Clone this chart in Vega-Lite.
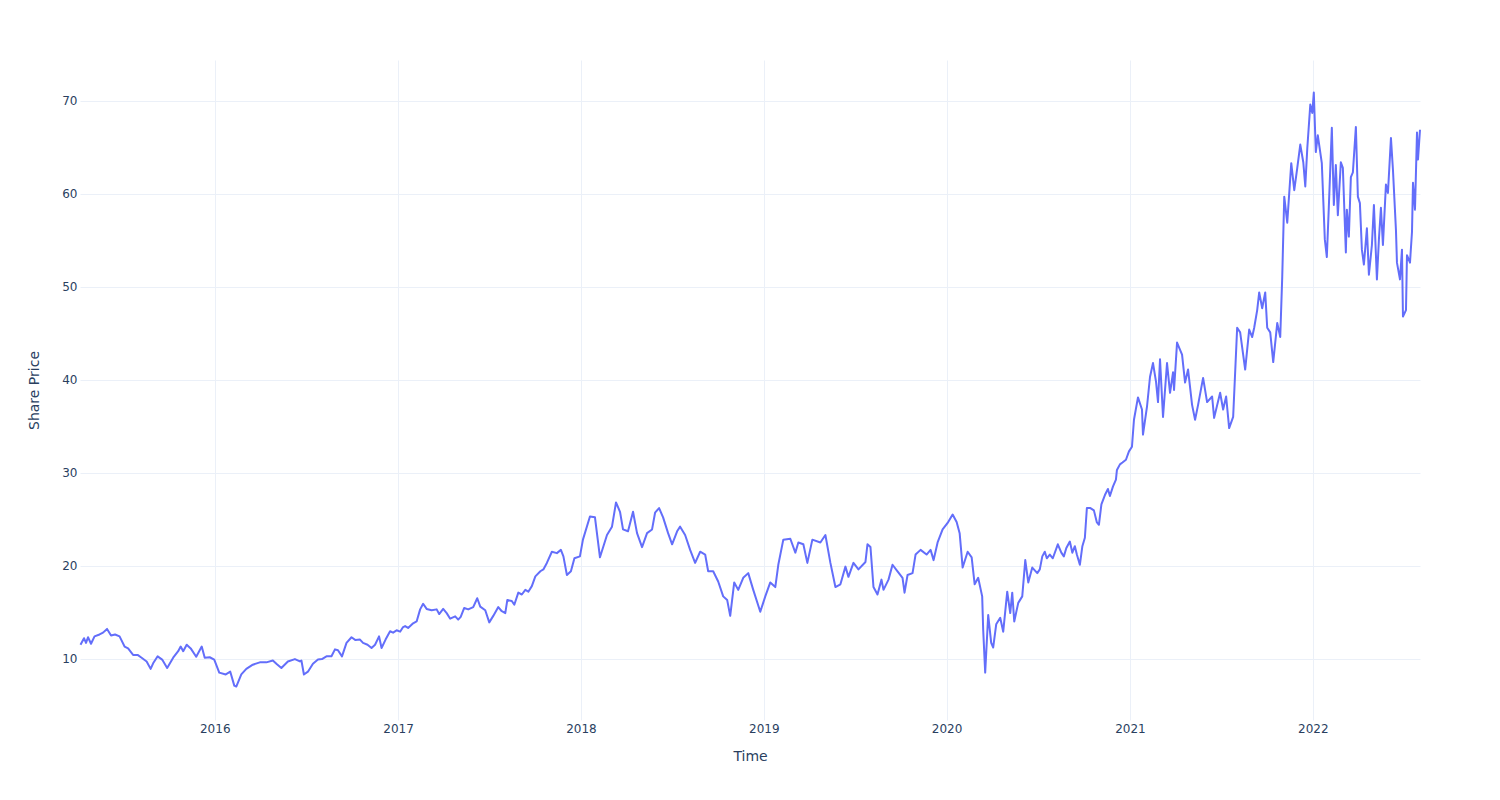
{
  "$schema": "https://vega.github.io/schema/vega-lite/v6.json",
  "width": 1340,
  "height": 660,
  "autosize": {"type": "none"},
  "padding": {"left": 80, "top": 60, "right": 80, "bottom": 80},
  "background": "white",
  "config": {
    "view": {"stroke": null},
    "font": "DejaVu Sans"
  },
  "data": {
    "values": [
      {"date": "2015-04-08", "price": 11.5},
      {"date": "2015-04-15", "price": 12.2},
      {"date": "2015-04-19", "price": 11.7},
      {"date": "2015-04-23", "price": 12.3},
      {"date": "2015-04-29", "price": 11.6},
      {"date": "2015-05-06", "price": 12.4},
      {"date": "2015-05-16", "price": 12.6},
      {"date": "2015-05-23", "price": 12.8},
      {"date": "2015-05-31", "price": 13.2},
      {"date": "2015-06-08", "price": 12.5},
      {"date": "2015-06-16", "price": 12.6},
      {"date": "2015-06-25", "price": 12.4},
      {"date": "2015-07-05", "price": 11.3},
      {"date": "2015-07-12", "price": 11.1},
      {"date": "2015-07-22", "price": 10.4},
      {"date": "2015-07-31", "price": 10.4},
      {"date": "2015-08-08", "price": 10.1},
      {"date": "2015-08-18", "price": 9.7},
      {"date": "2015-08-26", "price": 8.9},
      {"date": "2015-08-31", "price": 9.5},
      {"date": "2015-09-09", "price": 10.25},
      {"date": "2015-09-18", "price": 9.9},
      {"date": "2015-09-28", "price": 9.0},
      {"date": "2015-10-10", "price": 10.1},
      {"date": "2015-10-20", "price": 10.8},
      {"date": "2015-10-25", "price": 11.3},
      {"date": "2015-10-30", "price": 10.8},
      {"date": "2015-11-06", "price": 11.5},
      {"date": "2015-11-14", "price": 11.1},
      {"date": "2015-11-25", "price": 10.2},
      {"date": "2015-12-06", "price": 11.3},
      {"date": "2015-12-12", "price": 10.1},
      {"date": "2015-12-22", "price": 10.15},
      {"date": "2015-12-31", "price": 9.9},
      {"date": "2016-01-10", "price": 8.5},
      {"date": "2016-01-23", "price": 8.3},
      {"date": "2016-02-01", "price": 8.6},
      {"date": "2016-02-09", "price": 7.1},
      {"date": "2016-02-13", "price": 7.0},
      {"date": "2016-02-23", "price": 8.3},
      {"date": "2016-03-04", "price": 8.9},
      {"date": "2016-03-17", "price": 9.35},
      {"date": "2016-03-31", "price": 9.6},
      {"date": "2016-04-13", "price": 9.6},
      {"date": "2016-04-26", "price": 9.8},
      {"date": "2016-05-03", "price": 9.45},
      {"date": "2016-05-13", "price": 9.0},
      {"date": "2016-05-26", "price": 9.7},
      {"date": "2016-06-09", "price": 9.95},
      {"date": "2016-06-19", "price": 9.7},
      {"date": "2016-06-22", "price": 9.8},
      {"date": "2016-06-27", "price": 8.3},
      {"date": "2016-07-05", "price": 8.6},
      {"date": "2016-07-15", "price": 9.45},
      {"date": "2016-07-25", "price": 9.9},
      {"date": "2016-08-02", "price": 9.95},
      {"date": "2016-08-11", "price": 10.25},
      {"date": "2016-08-21", "price": 10.25},
      {"date": "2016-08-28", "price": 11.0},
      {"date": "2016-09-03", "price": 10.9},
      {"date": "2016-09-11", "price": 10.25},
      {"date": "2016-09-20", "price": 11.7},
      {"date": "2016-09-30", "price": 12.3},
      {"date": "2016-10-08", "price": 12.0},
      {"date": "2016-10-17", "price": 12.05},
      {"date": "2016-10-23", "price": 11.7},
      {"date": "2016-11-01", "price": 11.5},
      {"date": "2016-11-09", "price": 11.15},
      {"date": "2016-11-16", "price": 11.5},
      {"date": "2016-11-24", "price": 12.4},
      {"date": "2016-11-29", "price": 11.15},
      {"date": "2016-12-07", "price": 12.05},
      {"date": "2016-12-16", "price": 12.95},
      {"date": "2016-12-22", "price": 12.8},
      {"date": "2016-12-29", "price": 13.05},
      {"date": "2017-01-05", "price": 12.9},
      {"date": "2017-01-11", "price": 13.4},
      {"date": "2017-01-15", "price": 13.5},
      {"date": "2017-01-21", "price": 13.3},
      {"date": "2017-01-31", "price": 13.8},
      {"date": "2017-02-07", "price": 14.0},
      {"date": "2017-02-14", "price": 15.3},
      {"date": "2017-02-20", "price": 15.9},
      {"date": "2017-02-27", "price": 15.35},
      {"date": "2017-03-09", "price": 15.2},
      {"date": "2017-03-19", "price": 15.3},
      {"date": "2017-03-24", "price": 14.8},
      {"date": "2017-04-01", "price": 15.35},
      {"date": "2017-04-08", "price": 14.9},
      {"date": "2017-04-15", "price": 14.3},
      {"date": "2017-04-25", "price": 14.55},
      {"date": "2017-05-01", "price": 14.2},
      {"date": "2017-05-06", "price": 14.5},
      {"date": "2017-05-13", "price": 15.45},
      {"date": "2017-05-21", "price": 15.3},
      {"date": "2017-05-31", "price": 15.55},
      {"date": "2017-06-08", "price": 16.5},
      {"date": "2017-06-14", "price": 15.6},
      {"date": "2017-06-24", "price": 15.2},
      {"date": "2017-07-02", "price": 13.9},
      {"date": "2017-07-10", "price": 14.6},
      {"date": "2017-07-20", "price": 15.55},
      {"date": "2017-07-27", "price": 15.1},
      {"date": "2017-08-03", "price": 14.9},
      {"date": "2017-08-07", "price": 16.3},
      {"date": "2017-08-16", "price": 16.2},
      {"date": "2017-08-21", "price": 15.8},
      {"date": "2017-08-29", "price": 17.1},
      {"date": "2017-09-05", "price": 16.9},
      {"date": "2017-09-12", "price": 17.4},
      {"date": "2017-09-18", "price": 17.2},
      {"date": "2017-09-25", "price": 17.8},
      {"date": "2017-10-02", "price": 18.85},
      {"date": "2017-10-12", "price": 19.4},
      {"date": "2017-10-18", "price": 19.6},
      {"date": "2017-10-25", "price": 20.3},
      {"date": "2017-11-04", "price": 21.5},
      {"date": "2017-11-14", "price": 21.35},
      {"date": "2017-11-22", "price": 21.7},
      {"date": "2017-11-27", "price": 21.0},
      {"date": "2017-12-04", "price": 19.0},
      {"date": "2017-12-12", "price": 19.4},
      {"date": "2017-12-19", "price": 20.8},
      {"date": "2017-12-30", "price": 21.0},
      {"date": "2018-01-05", "price": 22.8},
      {"date": "2018-01-19", "price": 25.3},
      {"date": "2018-01-29", "price": 25.2},
      {"date": "2018-02-08", "price": 20.9},
      {"date": "2018-02-22", "price": 23.3},
      {"date": "2018-03-04", "price": 24.2},
      {"date": "2018-03-12", "price": 26.8},
      {"date": "2018-03-20", "price": 25.8},
      {"date": "2018-03-26", "price": 23.9},
      {"date": "2018-04-05", "price": 23.7},
      {"date": "2018-04-15", "price": 25.8},
      {"date": "2018-04-23", "price": 23.5},
      {"date": "2018-05-03", "price": 22.0},
      {"date": "2018-05-13", "price": 23.5},
      {"date": "2018-05-23", "price": 23.9},
      {"date": "2018-05-29", "price": 25.7},
      {"date": "2018-06-06", "price": 26.2},
      {"date": "2018-06-14", "price": 25.2},
      {"date": "2018-06-24", "price": 23.5},
      {"date": "2018-07-02", "price": 22.3},
      {"date": "2018-07-12", "price": 23.7},
      {"date": "2018-07-18", "price": 24.2},
      {"date": "2018-07-28", "price": 23.3},
      {"date": "2018-08-07", "price": 21.7},
      {"date": "2018-08-17", "price": 20.3},
      {"date": "2018-08-27", "price": 21.5},
      {"date": "2018-09-06", "price": 21.2},
      {"date": "2018-09-12", "price": 19.4},
      {"date": "2018-09-22", "price": 19.4},
      {"date": "2018-10-02", "price": 18.3},
      {"date": "2018-10-12", "price": 16.7},
      {"date": "2018-10-20", "price": 16.3},
      {"date": "2018-10-26", "price": 14.6},
      {"date": "2018-11-03", "price": 18.2},
      {"date": "2018-11-11", "price": 17.4},
      {"date": "2018-11-21", "price": 18.7},
      {"date": "2018-12-01", "price": 19.2},
      {"date": "2018-12-11", "price": 17.4},
      {"date": "2018-12-25", "price": 15.05},
      {"date": "2019-01-04", "price": 16.7},
      {"date": "2019-01-14", "price": 18.2},
      {"date": "2019-01-24", "price": 17.7},
      {"date": "2019-01-30", "price": 20.1},
      {"date": "2019-02-09", "price": 22.8},
      {"date": "2019-02-23", "price": 22.9},
      {"date": "2019-03-05", "price": 21.4},
      {"date": "2019-03-11", "price": 22.5},
      {"date": "2019-03-21", "price": 22.3},
      {"date": "2019-03-29", "price": 20.3},
      {"date": "2019-04-08", "price": 22.8},
      {"date": "2019-04-24", "price": 22.5},
      {"date": "2019-05-04", "price": 23.3},
      {"date": "2019-05-14", "price": 20.3},
      {"date": "2019-05-24", "price": 17.7},
      {"date": "2019-06-03", "price": 18.0},
      {"date": "2019-06-13", "price": 19.9},
      {"date": "2019-06-19", "price": 18.8},
      {"date": "2019-06-29", "price": 20.3},
      {"date": "2019-07-09", "price": 19.6},
      {"date": "2019-07-23", "price": 20.4},
      {"date": "2019-07-27", "price": 22.3},
      {"date": "2019-08-02", "price": 22.0},
      {"date": "2019-08-08", "price": 17.7},
      {"date": "2019-08-16", "price": 16.9},
      {"date": "2019-08-24", "price": 18.5},
      {"date": "2019-08-28", "price": 17.4},
      {"date": "2019-09-07", "price": 18.5},
      {"date": "2019-09-15", "price": 20.1},
      {"date": "2019-09-25", "price": 19.4},
      {"date": "2019-10-05", "price": 18.7},
      {"date": "2019-10-09", "price": 17.1},
      {"date": "2019-10-15", "price": 19.0},
      {"date": "2019-10-25", "price": 19.2},
      {"date": "2019-10-31", "price": 21.2},
      {"date": "2019-11-10", "price": 21.7},
      {"date": "2019-11-22", "price": 21.2},
      {"date": "2019-11-30", "price": 21.7},
      {"date": "2019-12-06", "price": 20.6},
      {"date": "2019-12-14", "price": 22.5},
      {"date": "2019-12-24", "price": 23.9},
      {"date": "2020-01-03", "price": 24.6},
      {"date": "2020-01-13", "price": 25.5},
      {"date": "2020-01-21", "price": 24.7},
      {"date": "2020-01-27", "price": 23.5},
      {"date": "2020-02-02", "price": 19.8},
      {"date": "2020-02-12", "price": 21.5},
      {"date": "2020-02-20", "price": 20.9},
      {"date": "2020-02-26", "price": 18.0},
      {"date": "2020-03-04", "price": 18.7},
      {"date": "2020-03-12", "price": 16.7},
      {"date": "2020-03-14", "price": 13.1},
      {"date": "2020-03-18", "price": 8.5},
      {"date": "2020-03-24", "price": 14.7},
      {"date": "2020-03-30", "price": 11.7},
      {"date": "2020-04-03", "price": 11.2},
      {"date": "2020-04-09", "price": 13.7},
      {"date": "2020-04-17", "price": 14.4},
      {"date": "2020-04-23", "price": 12.9},
      {"date": "2020-05-01", "price": 17.2},
      {"date": "2020-05-07", "price": 14.9},
      {"date": "2020-05-11", "price": 17.1},
      {"date": "2020-05-15", "price": 14.0},
      {"date": "2020-05-23", "price": 16.0},
      {"date": "2020-05-31", "price": 16.7},
      {"date": "2020-06-06", "price": 20.6},
      {"date": "2020-06-12", "price": 18.2},
      {"date": "2020-06-20", "price": 19.8},
      {"date": "2020-06-30", "price": 19.2},
      {"date": "2020-07-05", "price": 19.6},
      {"date": "2020-07-10", "price": 21.0},
      {"date": "2020-07-15", "price": 21.5},
      {"date": "2020-07-19", "price": 20.8},
      {"date": "2020-07-25", "price": 21.2},
      {"date": "2020-07-31", "price": 20.8},
      {"date": "2020-08-10", "price": 22.3},
      {"date": "2020-08-17", "price": 21.4},
      {"date": "2020-08-22", "price": 21.0},
      {"date": "2020-08-27", "price": 21.9},
      {"date": "2020-09-03", "price": 22.6},
      {"date": "2020-09-08", "price": 21.4},
      {"date": "2020-09-13", "price": 22.1},
      {"date": "2020-09-17", "price": 21.2},
      {"date": "2020-09-23", "price": 20.1},
      {"date": "2020-09-28", "price": 22.1},
      {"date": "2020-10-03", "price": 23.0},
      {"date": "2020-10-07", "price": 26.2},
      {"date": "2020-10-14", "price": 26.2},
      {"date": "2020-10-21", "price": 25.95},
      {"date": "2020-10-27", "price": 24.65},
      {"date": "2020-10-31", "price": 24.4},
      {"date": "2020-11-05", "price": 26.6},
      {"date": "2020-11-12", "price": 27.6},
      {"date": "2020-11-18", "price": 28.25},
      {"date": "2020-11-22", "price": 27.5},
      {"date": "2020-11-28", "price": 28.5},
      {"date": "2020-12-04", "price": 29.25},
      {"date": "2020-12-06", "price": 30.3},
      {"date": "2020-12-12", "price": 30.9},
      {"date": "2020-12-17", "price": 31.1},
      {"date": "2020-12-24", "price": 31.4},
      {"date": "2020-12-30", "price": 32.3},
      {"date": "2021-01-05", "price": 32.8},
      {"date": "2021-01-09", "price": 35.7},
      {"date": "2021-01-17", "price": 38.1},
      {"date": "2021-01-25", "price": 36.8},
      {"date": "2021-01-27", "price": 34.1},
      {"date": "2021-02-04", "price": 37.1},
      {"date": "2021-02-10", "price": 40.3},
      {"date": "2021-02-16", "price": 41.8},
      {"date": "2021-02-22", "price": 39.8},
      {"date": "2021-02-26", "price": 37.6},
      {"date": "2021-03-02", "price": 42.2},
      {"date": "2021-03-08", "price": 36.0},
      {"date": "2021-03-16", "price": 41.8},
      {"date": "2021-03-22", "price": 38.6},
      {"date": "2021-03-28", "price": 40.8},
      {"date": "2021-03-30", "price": 38.9},
      {"date": "2021-04-05", "price": 44.0},
      {"date": "2021-04-15", "price": 42.7},
      {"date": "2021-04-21", "price": 39.7},
      {"date": "2021-04-27", "price": 41.1},
      {"date": "2021-05-05", "price": 37.3},
      {"date": "2021-05-11", "price": 35.7},
      {"date": "2021-05-17", "price": 37.3},
      {"date": "2021-05-27", "price": 40.2},
      {"date": "2021-06-04", "price": 37.6},
      {"date": "2021-06-14", "price": 38.2},
      {"date": "2021-06-18", "price": 35.9},
      {"date": "2021-06-30", "price": 38.6},
      {"date": "2021-07-06", "price": 36.8},
      {"date": "2021-07-12", "price": 38.2},
      {"date": "2021-07-18", "price": 34.8},
      {"date": "2021-07-26", "price": 36.0},
      {"date": "2021-08-03", "price": 45.6},
      {"date": "2021-08-09", "price": 45.1},
      {"date": "2021-08-19", "price": 41.1},
      {"date": "2021-08-27", "price": 45.4},
      {"date": "2021-09-02", "price": 44.6},
      {"date": "2021-09-06", "price": 45.6},
      {"date": "2021-09-12", "price": 47.5},
      {"date": "2021-09-16", "price": 49.4},
      {"date": "2021-09-22", "price": 47.7},
      {"date": "2021-09-28", "price": 49.4},
      {"date": "2021-10-02", "price": 45.6},
      {"date": "2021-10-08", "price": 45.1},
      {"date": "2021-10-14", "price": 41.9},
      {"date": "2021-10-22", "price": 46.1},
      {"date": "2021-10-28", "price": 44.6},
      {"date": "2021-11-01", "price": 51.1},
      {"date": "2021-11-05", "price": 59.7},
      {"date": "2021-11-11", "price": 56.9},
      {"date": "2021-11-19", "price": 63.3},
      {"date": "2021-11-25", "price": 60.4},
      {"date": "2021-12-01", "price": 62.8},
      {"date": "2021-12-07", "price": 65.3},
      {"date": "2021-12-13", "price": 63.4},
      {"date": "2021-12-17", "price": 60.8},
      {"date": "2021-12-21", "price": 64.9},
      {"date": "2021-12-27", "price": 69.6},
      {"date": "2021-12-31", "price": 68.7},
      {"date": "2022-01-03", "price": 70.9},
      {"date": "2022-01-07", "price": 64.5},
      {"date": "2022-01-11", "price": 66.3},
      {"date": "2022-01-19", "price": 63.3},
      {"date": "2022-01-25", "price": 55.1},
      {"date": "2022-01-29", "price": 53.2},
      {"date": "2022-02-02", "price": 58.6},
      {"date": "2022-02-08", "price": 67.1},
      {"date": "2022-02-12", "price": 58.8},
      {"date": "2022-02-16", "price": 63.1},
      {"date": "2022-02-20", "price": 57.7},
      {"date": "2022-02-26", "price": 63.4},
      {"date": "2022-03-02", "price": 62.8},
      {"date": "2022-03-08", "price": 53.7},
      {"date": "2022-03-10", "price": 58.3},
      {"date": "2022-03-14", "price": 55.4},
      {"date": "2022-03-18", "price": 61.8},
      {"date": "2022-03-22", "price": 62.3},
      {"date": "2022-03-28", "price": 67.2},
      {"date": "2022-04-01", "price": 59.7},
      {"date": "2022-04-05", "price": 59.0},
      {"date": "2022-04-09", "price": 54.0},
      {"date": "2022-04-13", "price": 52.4},
      {"date": "2022-04-19", "price": 56.3},
      {"date": "2022-04-23", "price": 51.3},
      {"date": "2022-04-29", "price": 54.5},
      {"date": "2022-05-03", "price": 58.8},
      {"date": "2022-05-09", "price": 50.8},
      {"date": "2022-05-13", "price": 55.1},
      {"date": "2022-05-17", "price": 58.5},
      {"date": "2022-05-21", "price": 54.5},
      {"date": "2022-05-27", "price": 61.0},
      {"date": "2022-05-31", "price": 60.1},
      {"date": "2022-06-06", "price": 66.0},
      {"date": "2022-06-10", "price": 62.6},
      {"date": "2022-06-16", "price": 56.1},
      {"date": "2022-06-18", "price": 52.6},
      {"date": "2022-06-24", "price": 50.8},
      {"date": "2022-06-28", "price": 54.0},
      {"date": "2022-06-30", "price": 46.8},
      {"date": "2022-07-06", "price": 47.5},
      {"date": "2022-07-08", "price": 53.4},
      {"date": "2022-07-14", "price": 52.6},
      {"date": "2022-07-18", "price": 55.9},
      {"date": "2022-07-20", "price": 61.2},
      {"date": "2022-07-24", "price": 58.3},
      {"date": "2022-07-28", "price": 66.6},
      {"date": "2022-07-30", "price": 63.7},
      {"date": "2022-08-03", "price": 66.9}
    ]
  },
  "mark": {"type": "line", "color": "#636efa", "strokeWidth": 2, "strokeJoin": "round"},
  "encoding": {
    "x": {
      "field": "date",
      "type": "temporal",
      "title": "Time",
      "scale": {"type": "utc", "domain": [{"year": 2015, "month": 4, "date": 7, "utc": true}, {"year": 2022, "month": 8, "date": 3, "utc": true}], "nice": false},
      "axis": {
        "values": [
          {"year": 2016, "month": 1, "date": 1, "utc": true},
          {"year": 2017, "month": 1, "date": 1, "utc": true},
          {"year": 2018, "month": 1, "date": 1, "utc": true},
          {"year": 2019, "month": 1, "date": 1, "utc": true},
          {"year": 2020, "month": 1, "date": 1, "utc": true},
          {"year": 2021, "month": 1, "date": 1, "utc": true},
          {"year": 2022, "month": 1, "date": 1, "utc": true}
        ],
        "format": "%Y",
        "domain": false,
        "ticks": false,
        "grid": true,
        "gridColor": "#EBF0F8",
        "gridWidth": 1,
        "labelColor": "#2a3f5f",
        "labelFontSize": 12,
        "labelFont": "DejaVu Sans",
        "labelPadding": 3,
        "titleColor": "#2a3f5f",
        "titleFontSize": 14,
        "titleFont": "DejaVu Sans",
        "titleFontWeight": "normal",
        "titlePadding": 15
      }
    },
    "y": {
      "field": "price",
      "type": "quantitative",
      "title": "Share Price",
      "scale": {"domain": [3.4, 74.4], "nice": false, "zero": false},
      "axis": {
        "values": [10, 20, 30, 40, 50, 60, 70],
        "domain": false,
        "ticks": false,
        "grid": true,
        "gridColor": "#EBF0F8",
        "gridWidth": 1,
        "labelColor": "#2a3f5f",
        "labelFontSize": 12,
        "labelFont": "DejaVu Sans",
        "labelPadding": 3,
        "titleColor": "#2a3f5f",
        "titleFontSize": 14,
        "titleFont": "DejaVu Sans",
        "titleFontWeight": "normal",
        "titlePadding": 20
      }
    }
  }
}
